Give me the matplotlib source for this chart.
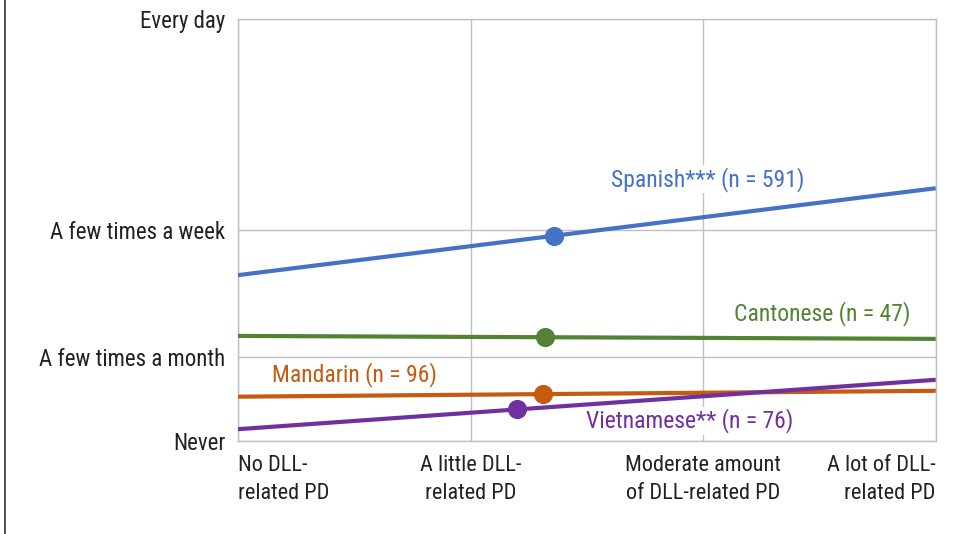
import matplotlib
matplotlib.use("Agg")
import matplotlib.pyplot as plt
from matplotlib.lines import Line2D

plt.rcParams["font.family"] = ["Roboto Condensed", "DejaVu Sans"]

# ---- data ----
x_labels = ["No DLL-\nrelated PD", "A little DLL-\nrelated PD",
            "Moderate amount\nof DLL-related PD", "A lot of DLL-\nrelated PD"]
y_labels = ["Never", "A few times a month", "A few times a week", "Every day"]
y_levels = [0, 2, 5, 10]

groups = ["Spanish", "Cantonese", "Mandarin", "Vietnamese"]
group_names = ["Spanish*** (n = 591)", "Cantonese (n = 47)",
               "Mandarin (n = 96)", "Vietnamese** (n = 76)"]
line_start = [3.93, 2.49, 1.05, 0.28]   # value at "No DLL-related PD"
line_end = [5.99, 2.42, 1.19, 1.45]     # value at "A lot of DLL-related PD"
mean_x = [1.36, 1.32, 1.31, 1.20]       # group mean PD
mean_y = [4.86, 2.47, 1.11, 0.75]
colors = ["#4472C4", "#548235", "#C55A11", "#7030A0"]

# label anchor points (data coords)
label_pos = [(2.02, 6.2), (2.51, 3.02), (0.5, 1.58), (1.94, 0.48)]

fig = plt.figure(figsize=(9.54, 5.34), dpi=100)
ax = fig.add_axes([238 / 954, 1 - 441 / 534, (935.7 - 238) / 954, (441 - 19) / 534])

for i, g in enumerate(groups):
    ax.plot([0, 3], [line_start[i], line_end[i]], color=colors[i], lw=3,
            solid_capstyle="butt", zorder=3)
    ax.scatter([mean_x[i]], [mean_y[i]], s=190, color=colors[i], zorder=4,
               linewidths=0)
    lx, ly = label_pos[i]
    ax.text(lx, ly, group_names[i], color=colors[i], fontsize=17,
            ha="center", va="center", zorder=2,
            bbox=dict(facecolor="white", edgecolor="none", pad=1))

ax.set_xlim(0, 3)
ax.set_ylim(0, 10)
ax.set_xticks(range(4))
ax.set_xticklabels(x_labels, fontsize=16, color="#222222", linespacing=1.45)
aligns = ["left", "center", "center", "right"]
for lab, a in zip(ax.get_xticklabels(), aligns):
    lab.set_ha(a)
    lab.set_multialignment(a)
ax.set_yticks(y_levels)
ax.set_yticklabels(y_labels, fontsize=16.5, color="#222222")
ax.tick_params(length=0, axis="x", pad=10)
ax.tick_params(length=0, axis="y", pad=9)

ax.grid(True, color="#C0C0C0", lw=1, zorder=0)
ax.set_axisbelow(True)
for s in ax.spines.values():
    s.set_color("#C0C0C0")
    s.set_linewidth(1)

# thin frame line at the left edge of the figure
fig.add_artist(Line2D([5.5 / 954, 5.5 / 954], [0, 1], color="#333333", lw=1.2))

fig.savefig("out.png", dpi=100)
